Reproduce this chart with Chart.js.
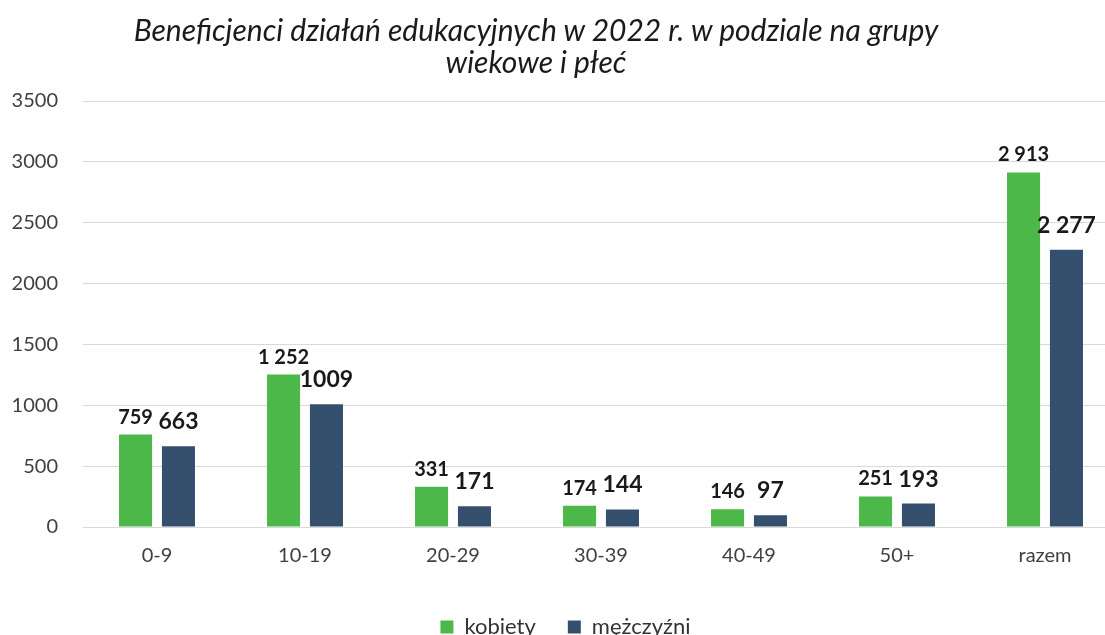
<!DOCTYPE html>
<html lang="pl">
<head>
<meta charset="utf-8">
<script src="https://cdn.jsdelivr.net/npm/chart.js@4/dist/chart.umd.min.js"></script>
<style>
  html, body { margin: 0; padding: 0; background: #ffffff; }
  #wrap { width: 1105px; height: 635px; position: relative; overflow: hidden; }
  #plotno { position: absolute; left: 0; top: 0; width: 1119px; height: 648px; }
  #tytul {
    position: absolute; top: 13px; left: 0; width: 1072px;
    text-align: center; font-family: Lato, sans-serif; font-style: italic;
    font-size: 30px; line-height: 32px; color: #1a1a1a;
  }
</style>
</head>
<body>
<div id="wrap">
  <div id="plotno"><canvas id="chart-beneficjenci"></canvas></div>
  <div id="tytul">Beneficjenci działań edukacyjnych w 2022 r. w podziale na grupy<br>wiekowe i płeć</div>
</div>
<script>
// Dane wykresu
const grupy = ['0-9', '10-19', '20-29', '30-39', '40-49', '50+', 'razem'];
const kobiety = [759, 1252, 331, 174, 146, 251, 2913];
const mezczyzni = [663, 1009, 171, 144, 97, 193, 2277];
const etykietyK = ['759', '1 252', '331', '174', '146', '251', '2 913'];
const etykietyM = ['663', '1009', '171', '144', '97', '193', '2 277'];

// Etykiety wartości nad słupkami
const etykietyPlugin = {
    id: 'etykiety',
    afterDatasetsDraw(chart) {
        const ctx = chart.ctx;
        const zestawy = [
            { teksty: etykietyK, font: 'bold 20px Lato', dy: 11 },
            { teksty: etykietyM, font: 'bold 23px Lato', dy: 17 }
        ];
        zestawy.forEach((z, i) => {
            const meta = chart.getDatasetMeta(i);
            meta.data.forEach((bar, j) => {
                ctx.save();
                ctx.font = z.font;
                ctx.fillStyle = '#1a1a1a';
                ctx.textAlign = 'center';
                ctx.textBaseline = 'alphabetic';
                ctx.fillText(z.teksty[j], bar.x, bar.y - z.dy);
                ctx.restore();
            });
        });
    }
};

const ctx = document.getElementById('chart-beneficjenci').getContext('2d');
new Chart(ctx, {
    type: 'bar',
    data: {
        labels: grupy,
        datasets: [{
            label: 'kobiety',
            data: kobiety,
            backgroundColor: '#4db84a'
        }, {
            label: 'mężczyźni',
            data: mezczyzni,
            backgroundColor: '#34506e'
        }]
    },
    options: {
        responsive: true,
        maintainAspectRatio: false,
        animation: false,
        categoryPercentage: 0.58,
        barPercentage: 0.77,
        layout: { padding: { left: 12, right: 0, top: 101, bottom: 0 } },
        plugins: {
            title: { display: false },
            legend: {
                position: 'bottom',
                labels: {
                    font: { family: 'Lato', size: 22 },
                    color: '#333333',
                    boxWidth: 13,
                    boxHeight: 13,
                    padding: 32
                }
            },
            tooltip: { enabled: false }
        },
        scales: {
            x: {
                grid: { display: false },
                border: { display: false },
                ticks: {
                    font: { family: 'Lato', size: 20 },
                    color: '#404040',
                    padding: 9
                },
                afterFit(scale) { scale.height = 57; }
            },
            y: {
                min: 0,
                max: 3500,
                border: { display: false },
                grid: { color: '#d9d9d9', drawTicks: false },
                ticks: {
                    stepSize: 500,
                    font: { family: 'Lato', size: 20 },
                    color: '#404040',
                    padding: 25,
                    callback: v => String(v)
                },
                afterFit(scale) { scale.width = 71; }
            }
        }
    },
    plugins: [etykietyPlugin]
});
</script>
</body>
</html>
